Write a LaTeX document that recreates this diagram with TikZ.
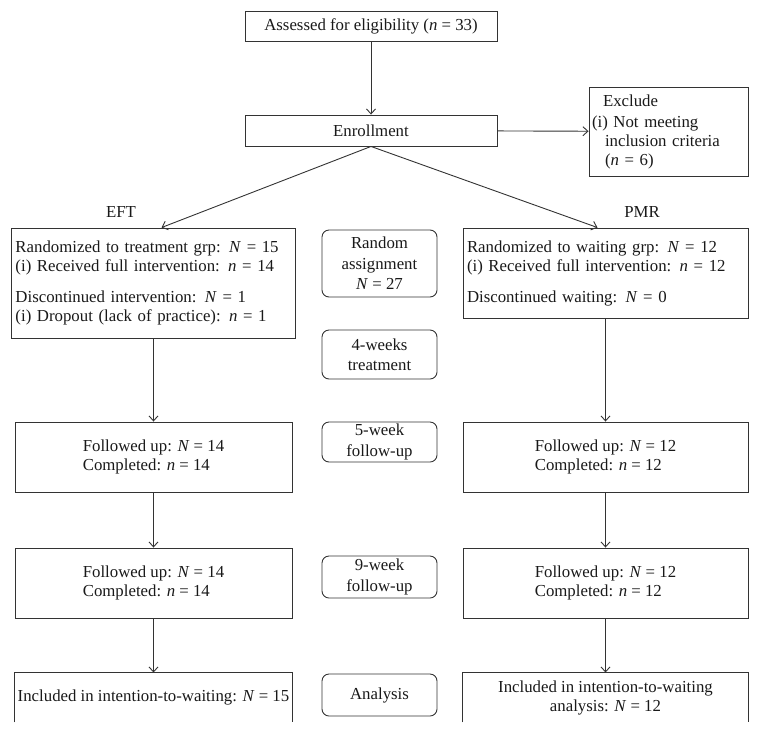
\documentclass[tikz,border=0pt]{standalone}
\usepackage{fontspec}
\setmainfont{Liberation Serif}
\usetikzlibrary{arrows.meta}

\begin{document}
\begin{tikzpicture}[x=1pt, y=-1pt]

\tikzset{%
every node/.style={font=\fontsize{16.8}{19}\selectfont, inner sep=3pt, text=black!90},%
every path/.style={->, >={Straight Barb[length=5pt,width=9pt]}, line width=.9pt, color=black!80}%
}

\tikzstyle{box}=[draw, rectangle]
\tikzstyle{stage}=[draw, rectangle, rounded corners=7pt, minimum width=115pt, align=center,
  font=\fontsize{16.8}{20.5}\selectfont]
\tikzstyle{open}=[rectangle, minimum width=277pt, minimum height=49pt, align=center]

\useasboundingbox (0,0) rectangle (759,734);

\node[box, minimum width=252pt, minimum height=30pt] (assess) at (371,26)
  {Assessed for eligibility (\textit{n} = 33)};
\node[box, minimum width=252pt, minimum height=31pt] (enroll) at (371,130.5) {Enrollment};
\node[box, minimum width=159pt, minimum height=89pt, text width=153pt, align=left] (excl) at (668.5,131.5)
  {\hspace*{11pt}Exclude\\[2pt]
   (i) Not meeting\\
   \hspace*{13pt}inclusion criteria\\
   \hspace*{13pt}(\textit{n} = 6)};
\draw (assess) to (enroll);
\draw (enroll) to (excl);

\node (eft) at (121,212) {EFT};
\node (pmr) at (642,212) {PMR};

\node[box, minimum width=284pt, minimum height=110pt, text width=276pt, align=left] (treat1) at (153.5,283)
  {Randomized to treatment grp: \textit{N} = 15\\
   (i) Received full intervention: \textit{n} = 14\\[12pt]
   Discontinued intervention: \textit{N} = 1\\
   (i) Dropout (lack of practice): \textit{n} = 1};
\node[box, minimum width=285pt, minimum height=90pt, text width=277pt, align=left] (wait1) at (605.5,273)
  {Randomized to waiting grp: \textit{N} = 12\\
   (i) Received full intervention: \textit{n} = 12\\[12pt]
   Discontinued waiting: \textit{N} = 0};
\draw (enroll.south) to ([xshift=8pt]treat1.north);
\draw (enroll.south) to ([xshift=-8pt]wait1.north);

\node[stage, minimum height=67pt] (assign) at (379.5,263.5) {Random\\assignment\\\textit{N} = 27};
\node[stage, minimum height=49pt] (weeks4) at (379.5,354.5) {4-weeks\\treatment};
\node[stage, minimum height=40pt, inner ysep=0pt] (week5) at (379.5,442) {5-week\\follow-up};
\node[stage, minimum height=42pt, inner ysep=0pt] (week9) at (379.5,577) {9-week\\follow-up};
\node[stage, minimum height=42pt] (analysis) at (379.5,695) {Analysis};

\node[box, minimum width=277pt, minimum height=70pt, align=left] (treat2) at (153.5,457) 
  {Followed up: \textit{N} = 14\\Completed: \textit{n} = 14};
\node[box, minimum width=285pt, minimum height=70pt, align=left] (wait2) at (605.5,457)
  {Followed up: \textit{N} = 12\\Completed: \textit{n} = 12};
\draw (treat1) to (treat2);
\draw (wait1) to (wait2);

\node[box, minimum width=277pt, minimum height=70pt, align=left] (treat3) at (153.5,583)
  {Followed up: \textit{N} = 14\\Completed: \textit{n} = 14};
\node[box, minimum width=285pt, minimum height=70pt, align=left] (wait3) at (605.5,583)
  {Followed up: \textit{N} = 12\\Completed: \textit{n} = 12};
\draw (treat2) to (treat3);
\draw (wait2) to (wait3);

\node[open] (treat4) at (153.5,697.5) {Included in intention-to-waiting: \textit{N} = 15};
\node[open, minimum width=285pt] (wait4) at (605.5,697.5) {Included in intention-to-waiting\\analysis: \textit{N} = 12};
\draw[-] (treat4.south west) |- (treat4.north east) -- (treat4.south east);
\draw[-] (wait4.south west) |- (wait4.north east) -- (wait4.south east);
\draw (treat3) to (treat4);
\draw (wait3) to (wait4);

\end{tikzpicture}
\end{document}
